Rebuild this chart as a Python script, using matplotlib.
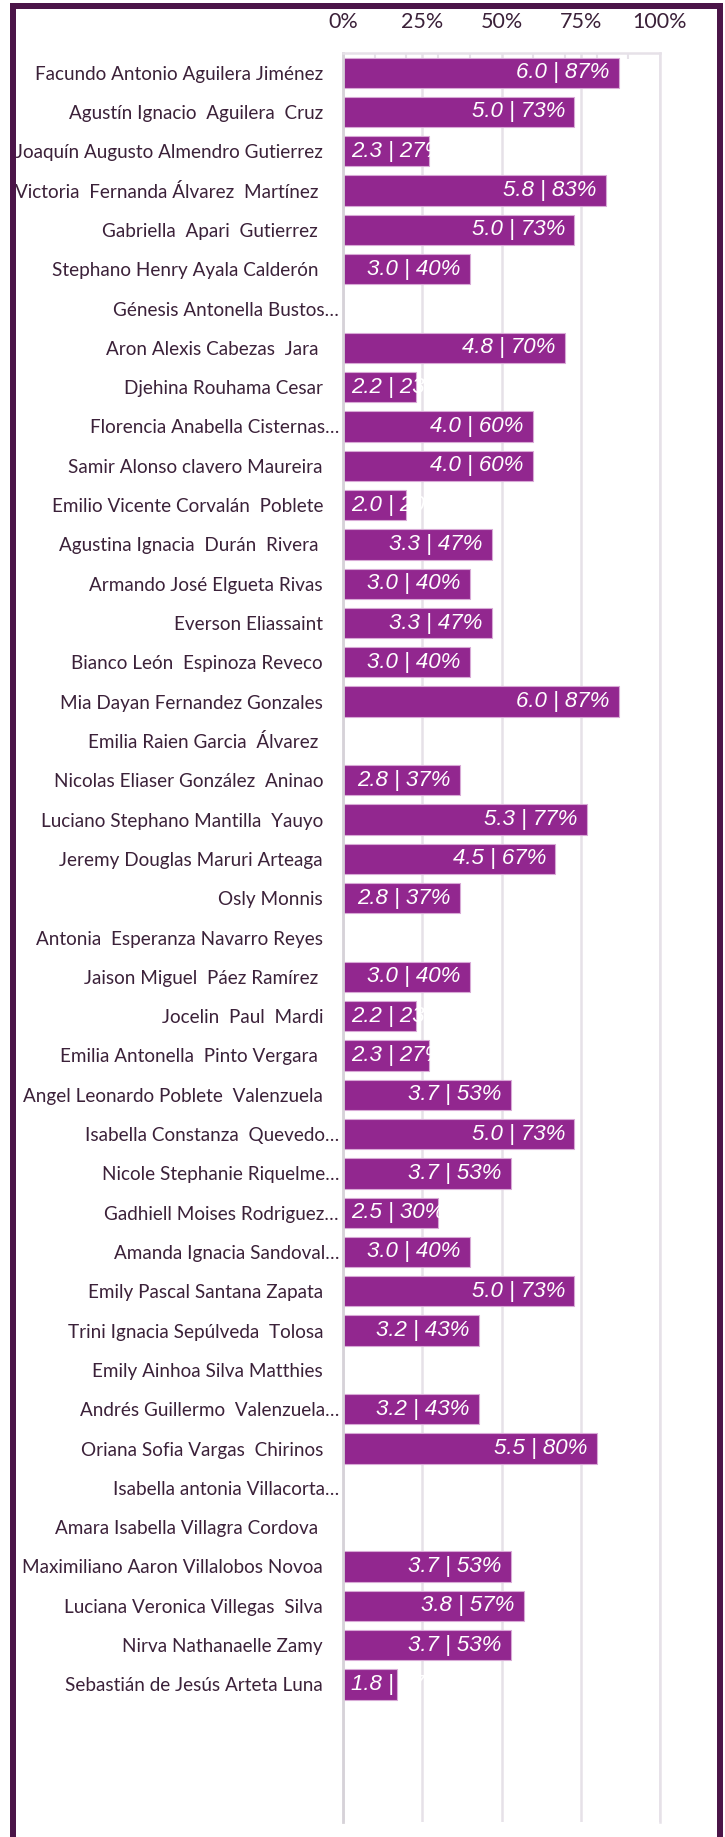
import numpy as np
import matplotlib
matplotlib.use("Agg")
import matplotlib.pyplot as plt
from matplotlib.patches import Rectangle
from matplotlib.transforms import ScaledTranslation

names = [
    "Facundo Antonio Aguilera Jiménez",
    "Agustín Ignacio  Aguilera  Cruz",
    "Joaquín Augusto Almendro Gutierrez",
    "Victoria  Fernanda Álvarez  Martínez ",
    "Gabriella  Apari  Gutierrez ",
    "Stephano Henry Ayala Calderón ",
    "Génesis Antonella Bustos…",
    "Aron Alexis Cabezas  Jara ",
    "Djehina Rouhama Cesar",
    "Florencia Anabella Cisternas…",
    "Samir Alonso clavero Maureira",
    "Emilio Vicente Corvalán  Poblete",
    "Agustina Ignacia  Durán  Rivera ",
    "Armando José Elgueta Rivas",
    "Everson Eliassaint",
    "Bianco León  Espinoza Reveco",
    "Mia Dayan Fernandez Gonzales",
    "Emilia Raien Garcia  Álvarez ",
    "Nicolas Eliaser González  Aninao",
    "Luciano Stephano Mantilla  Yauyo",
    "Jeremy Douglas Maruri Arteaga",
    "Osly Monnis",
    "Antonia  Esperanza Navarro Reyes",
    "Jaison Miguel  Páez Ramírez ",
    "Jocelin  Paul  Mardi",
    "Emilia Antonella  Pinto Vergara ",
    "Angel Leonardo Poblete  Valenzuela",
    "Isabella Constanza  Quevedo…",
    "Nicole Stephanie Riquelme…",
    "Gadhiell Moises Rodriguez…",
    "Amanda Ignacia Sandoval…",
    "Emily Pascal Santana Zapata",
    "Trini Ignacia Sepúlveda  Tolosa",
    "Emily Ainhoa Silva Matthies",
    "Andrés Guillermo  Valenzuela…",
    "Oriana Sofia Vargas  Chirinos",
    "Isabella antonia Villacorta…",
    "Amara Isabella Villagra Cordova ",
    "Maximiliano Aaron Villalobos Novoa",
    "Luciana Veronica Villegas  Silva",
    "Nirva Nathanaelle Zamy",
    "Sebastián de Jesús Arteta Luna",
]

scores = [6.0, 5.0, 2.3, 5.8, 5.0, 3.0, None, 4.8, 2.2, 4.0,
          4.0, 2.0, 3.3, 3.0, 3.3, 3.0, 6.0, None, 2.8, 5.3,
          4.5, 2.8, None, 3.0, 2.2, 2.3, 3.7, 5.0, 3.7, 2.5,
          3.0, 5.0, 3.2, None, 3.2, 5.5, None, None, 3.7, 3.8,
          3.7, 1.8]

pcts = [87, 73, 27, 83, 73, 40, None, 70, 23, 60,
        60, 20, 47, 40, 47, 40, 87, None, 37, 77,
        67, 37, None, 40, 23, 27, 53, 73, 53, 30,
        40, 73, 43, None, 43, 80, None, None, 53, 57,
        53, 17]

xticks = [0, 0.25, 0.5, 0.75, 1.0]
xtick_labels = ["0%", "25%", "50%", "75%", "100%"]

BAR = "#92278f"
BAR_EDGE = "#d8a9d6"
GRID = "#e6e1e8"
AXIS0 = "#d6d2d8"
TXT = "#3b2139"
FRAME = "#4b1548"
NAME_FONT = ["Lato", "DejaVu Sans"]
LABEL_FONT = ["Liberation Sans", "DejaVu Sans"]

W, H = 725, 1837
fig = plt.figure(figsize=(W / 100, H / 100), dpi=100)
fig.patch.set_facecolor("white")
ax = fig.add_axes([343 / W, 1 - 1822 / H, 317 / W, (1822 - 53) / H])

n = len(names)
ypos = np.arange(n)
idx = [i for i, p in enumerate(pcts) if p is not None]
vals = [pcts[i] / 100 for i in idx]
ax.barh(idx, vals, height=0.77, color=BAR, edgecolor=BAR_EDGE,
        linewidth=0.8, zorder=2)

ax.set_xlim(0, 1)
ax.set_ylim(n + 2.5, -0.5)

# grid and spines
ax.set_xticks(xticks)
ax.set_xticklabels(xtick_labels, fontfamily=NAME_FONT)
ax.set_xticks(np.arange(1, 10) / 10, minor=True)
ax.xaxis.tick_top()
ax.grid(axis="x", which="major", color=GRID, linewidth=1.8, zorder=0)
ax.set_axisbelow(True)
ax.tick_params(axis="x", which="major", length=0, pad=15,
               labelsize=15.5, labelcolor=TXT)
ax.tick_params(axis="x", which="minor", top=True, bottom=False,
               direction="in", length=4, width=1.5, color=GRID)
for side in ("top", "right"):
    ax.spines[side].set_color(GRID)
    ax.spines[side].set_linewidth(1.8)
ax.spines["left"].set_color(AXIS0)
ax.spines["left"].set_linewidth(2)
ax.spines["bottom"].set_visible(False)

# category labels
ax.set_yticks(ypos)
ax.set_yticklabels(names, fontfamily=NAME_FONT, fontsize=13.6, color=TXT)
ax.tick_params(axis="y", length=0, pad=14.4)
shift = ScaledTranslation(0.16, 0, fig.dpi_scale_trans)
for lab in ax.get_yticklabels():
    if lab.get_text().endswith("…"):
        lab.set_transform(lab.get_transform() + shift)

# data labels (inside end, falling back to inside base when too long)
renderer = fig.canvas.get_renderer()
x0_px = ax.transData.transform((0, 0))[0]
for i in idx:
    v = pcts[i] / 100
    txt = f"{scores[i]:.1f} | {pcts[i]}%"
    bar_px = ax.transData.transform((v, 0))[0] - x0_px
    t = ax.text(v, i, txt, color="white", fontsize=16, style="italic",
                fontfamily=LABEL_FONT, ha="right", va="center", zorder=3)
    tw = t.get_window_extent(renderer).width
    if tw + 17 <= bar_px:
        t.set_transform(ax.transData + ScaledTranslation(-9.5 / 100, 0, fig.dpi_scale_trans))
    else:
        t.set_x(0)
        t.set_ha("left")
        t.set_transform(ax.transData + ScaledTranslation(8 / 100, 0, fig.dpi_scale_trans))

# outer frame
fig.add_artist(Rectangle((0, 0), 10 / W, 1, transform=fig.transFigure,
                         facecolor="white", edgecolor="none", zorder=9))
fig.add_artist(Rectangle((10 / W, 0), 6 / W, (H - 3) / H, transform=fig.transFigure,
                         facecolor=FRAME, edgecolor="none", zorder=10))
fig.add_artist(Rectangle((10 / W, 1 - 9 / H), (723 - 10) / W, 6 / H, transform=fig.transFigure,
                         facecolor=FRAME, edgecolor="none", zorder=10))
fig.add_artist(Rectangle((717 / W, 0), 6 / W, (H - 3) / H, transform=fig.transFigure,
                         facecolor=FRAME, edgecolor="none", zorder=10))

fig.savefig("out.png", dpi=100, facecolor="white")
